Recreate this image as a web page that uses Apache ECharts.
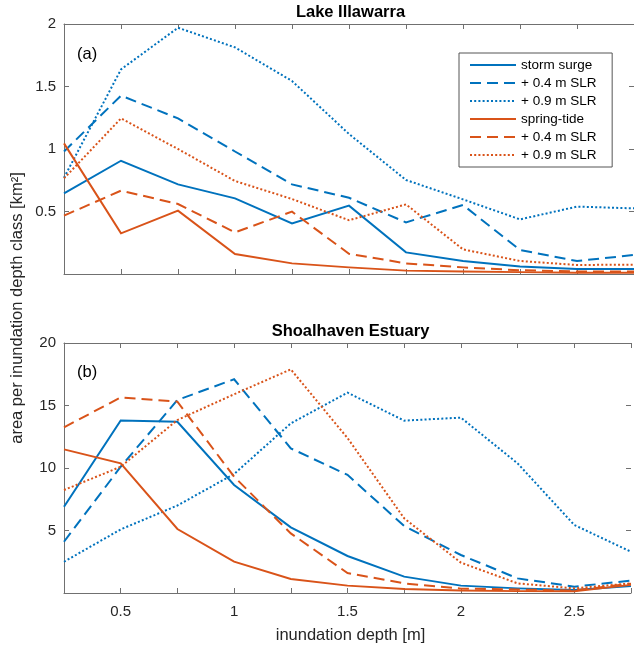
<!DOCTYPE html>
<html>
<head>
<meta charset="utf-8">
<script src="https://cdn.jsdelivr.net/npm/echarts@6/dist/echarts.min.js"></script>
<style>
html,body{margin:0;padding:0;background:#fff;}
#chart{width:634px;height:646px;}
</style>
</head>
<body>
<div id="chart"></div>
<script>
// ---- data ----
const depths = [0.25, 0.5, 0.75, 1, 1.25, 1.5, 1.75, 2, 2.25, 2.5, 2.75];

// (a) Lake Illawarra
const illStorm   = [0.645, 0.906, 0.717, 0.605, 0.405, 0.547, 0.173, 0.104, 0.06, 0.04, 0.04];
const illStorm04 = [0.98, 1.427, 1.245, 0.98, 0.717, 0.61, 0.413, 0.552, 0.192, 0.104, 0.152];
const illStorm09 = [0.77, 1.637, 1.97, 1.813, 1.544, 1.12, 0.752, 0.597, 0.437, 0.539, 0.525];
const illSpring   = [1.045, 0.325, 0.507, 0.16, 0.085, 0.053, 0.027, 0.02, 0.015, 0.01, 0.01];
const illSpring04 = [0.467, 0.667, 0.56, 0.333, 0.499, 0.162, 0.085, 0.053, 0.03, 0.02, 0.02];
const illSpring09 = [0.765, 1.245, 1.0, 0.744, 0.6, 0.43, 0.557, 0.197, 0.104, 0.072, 0.075];

// (b) Shoalhaven Estuary
const shoStorm   = [6.9, 13.8, 13.7, 8.64, 5.25, 2.96, 1.31, 0.59, 0.37, 0.24, 0.55];
const shoStorm04 = [4.1, 10.1, 15.44, 17.1, 11.57, 9.45, 5.36, 3.04, 1.17, 0.51, 0.99];
const shoStorm09 = [2.5, 5.09, 7.0, 9.52, 13.57, 16.03, 13.79, 14.03, 10.37, 5.44, 3.3];
const shoSpring   = [11.49, 10.37, 5.12, 2.51, 1.12, 0.59, 0.32, 0.2, 0.15, 0.15, 0.65];
const shoSpring04 = [13.25, 15.65, 15.31, 9.31, 4.77, 1.6, 0.77, 0.35, 0.28, 0.2, 0.75];
const shoSpring09 = [8.24, 10.1, 13.84, 15.9, 17.89, 12.4, 5.97, 2.43, 0.77, 0.37, 0.77];

const legendNames = ['storm surge', '+ 0.4 m SLR', '+ 0.9 m SLR', 'spring-tide', '+ 0.4 m SLR ', '+ 0.9 m SLR '];
const xTickLabels = ['0.5', '1', '1.5', '2', '2.5'];
const yTickLabelsA = ['0.5', '1', '1.5', '2'];
const yTickLabelsB = ['5', '10', '15', '20'];

// ---- styling ----
const BLUE = '#0072BD', ORANGE = '#D95319';
const FONT = "'Liberation Sans', Arial, sans-serif";
const AX = '#707070', TXT = '#262626';
const DASH = [11, 6], DOT = [2, 2.2];

const chart = echarts.init(document.getElementById('chart'), null, {renderer: 'canvas'});

function pairs(ys) { return depths.map((x, i) => [x, ys[i]]); }

function xAx(grid, pos, labels) {
  return {
    type: 'value', gridIndex: grid, position: pos, min: 0.25, max: 2.75, interval: 0.25,
    axisLine: {show: true, onZero: false, lineStyle: {color: AX, width: 1}},
    axisTick: {show: true, inside: true, length: 5, lineStyle: {color: AX}},
    splitLine: {show: false},
    axisLabel: {
      show: labels, margin: 11, color: TXT, fontSize: 15, fontFamily: FONT,
      formatter: v => { const s = String(+v.toFixed(2)); return xTickLabels.includes(s) ? s : ''; }
    }
  };
}
function yAx(grid, pos, max, interval, labels, tickLabels) {
  return {
    type: 'value', gridIndex: grid, position: pos, min: 0, max: max, interval: interval,
    axisLine: {show: pos === 'left', onZero: false, lineStyle: {color: AX, width: 1}},
    axisTick: {show: true, inside: true, length: 5, lineStyle: {color: AX}},
    splitLine: {show: false},
    axisLabel: {
      show: labels, margin: 8, color: TXT, fontSize: 15, fontFamily: FONT,
      formatter: v => { const s = String(+v.toFixed(2)); return tickLabels.includes(s) ? s : ''; }
    }
  };
}

function line(name, data, color, dash, xi, yi) {
  return {
    type: 'line', name: name, xAxisIndex: xi, yAxisIndex: yi, data: pairs(data),
    symbol: 'none', showSymbol: false, silent: true, animation: false, clip: true,
    lineStyle: {color: color, width: 2, type: dash, cap: 'butt', join: 'miter'},
    itemStyle: {color: color}
  };
}

const option = {
  backgroundColor: '#fff',
  animation: false,
  grid: [
    {left: 64, top: 24, width: 573, height: 250},
    {left: 64, top: 343, width: 573, height: 250}
  ],
  xAxis: [xAx(0, 'bottom', false), xAx(0, 'top', false), xAx(1, 'bottom', true), xAx(1, 'top', false)],
  yAxis: [
    yAx(0, 'left', 2, 0.5, true, yTickLabelsA), yAx(0, 'right', 2, 0.5, false, yTickLabelsA),
    yAx(1, 'left', 20, 5, true, yTickLabelsB), yAx(1, 'right', 20, 5, false, yTickLabelsB)
  ],
  legend: {
    data: legendNames, orient: 'vertical', left: 459, top: 53,
    padding: [5, 12, 5, 10], itemWidth: 46, itemHeight: 14, itemGap: 4,
    backgroundColor: '#fff', borderColor: '#555', borderWidth: 1,
    itemStyle: {opacity: 0, borderWidth: 0},
    textStyle: {color: '#000', fontSize: 13.5, fontFamily: FONT},
    selectedMode: false
  },
  series: [
    line(legendNames[0], illStorm, BLUE, 'solid', 0, 0),
    line(legendNames[1], illStorm04, BLUE, DASH, 0, 0),
    line(legendNames[2], illStorm09, BLUE, DOT, 0, 0),
    line(legendNames[3], illSpring, ORANGE, 'solid', 0, 0),
    line(legendNames[4], illSpring04, ORANGE, DASH, 0, 0),
    line(legendNames[5], illSpring09, ORANGE, DOT, 0, 0),
    line('b1', shoStorm, BLUE, 'solid', 2, 2),
    line('b2', shoStorm04, BLUE, DASH, 2, 2),
    line('b3', shoStorm09, BLUE, DOT, 2, 2),
    line('b4', shoSpring, ORANGE, 'solid', 2, 2),
    line('b5', shoSpring04, ORANGE, DASH, 2, 2),
    line('b6', shoSpring09, ORANGE, DOT, 2, 2)
  ],
  graphic: [
    {type: 'text', style: {text: 'Lake Illawarra', x: 350.5, y: 12, align: 'center', verticalAlign: 'middle', font: "bold 16.5px " + FONT, fill: '#000'}},
    {type: 'text', style: {text: 'Shoalhaven Estuary', x: 350.5, y: 331.5, align: 'center', verticalAlign: 'middle', font: "bold 16.5px " + FONT, fill: '#000'}},
    {type: 'text', style: {text: '(a)', x: 77, y: 54, align: 'left', verticalAlign: 'middle', font: "16.5px " + FONT, fill: '#000'}},
    {type: 'text', style: {text: '(b)', x: 77, y: 372.5, align: 'left', verticalAlign: 'middle', font: "16.5px " + FONT, fill: '#000'}},
    {type: 'text', style: {text: 'inundation depth [m]', x: 350.5, y: 635, align: 'center', verticalAlign: 'middle', font: "16.5px " + FONT, fill: TXT}},
    {type: 'text', x: 17, y: 308, rotation: Math.PI / 2,
     style: {text: 'area per inundation depth class [km²]', x: 0, y: 0, align: 'center', verticalAlign: 'middle', font: "16.5px " + FONT, fill: TXT}}
  ]
};
chart.setOption(option);
</script>
</body>
</html>
